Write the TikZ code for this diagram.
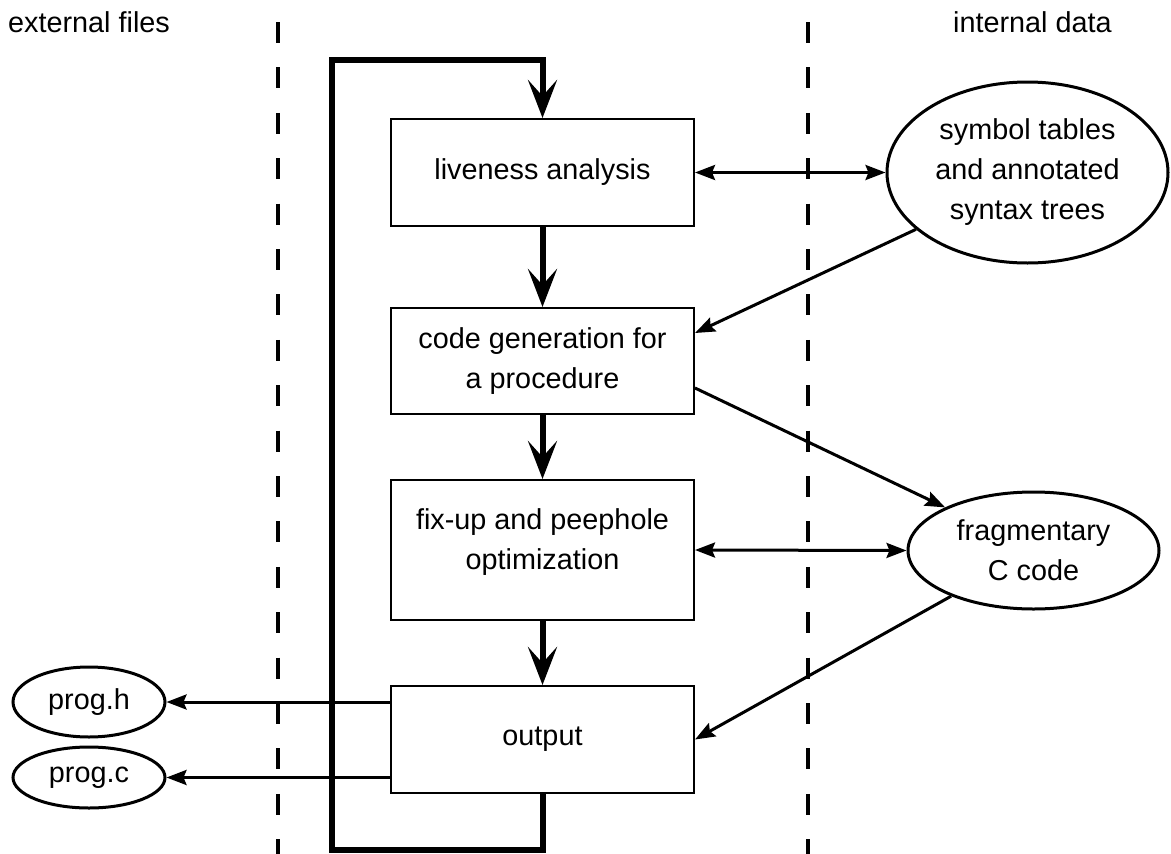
\documentclass[tikz,border=0pt]{standalone}
\usepackage{fontspec}
\setmainfont{Liberation Sans}
\usetikzlibrary{arrows.meta,shapes.geometric,calc}
\begin{document}
\begin{tikzpicture}[x=1pt,y=-1pt,
  font=\fontsize{28.8}{40}\selectfont,
  box/.style={draw, line width=2pt, minimum width=303pt, inner sep=0pt, align=center},
  oval/.style={draw, ellipse, line width=3pt, inner sep=0pt, align=center},
  flow/.style={line width=6pt, -{Stealth[length=38pt,width=29pt,inset=16pt]}},
  link/.style={line width=3pt, -{Stealth[length=20pt,width=15pt,inset=3pt]}},
  link2/.style={line width=3pt, {Stealth[length=20pt,width=15pt,inset=3pt]}-{Stealth[length=20pt,width=15pt,inset=3pt]}},
  sep/.style={line width=4pt, dash pattern=on 21pt off 24.4pt},
  lab/.style={inner sep=0pt}]
\useasboundingbox (0,0) rectangle (1171,854);

% separators
\draw[sep] (278,22) -- (278,854);
\draw[sep] (808,22) -- (808,854);

% headings
\node[lab, anchor=west] (ext) at (8,22.5) {external files};
\node[lab, anchor=west] (int) at (953,22.5) {internal data};

% boxes
\node[box, minimum height=107pt] (live) at (542.5,172.5) {liveness analysis};
\node[box, minimum height=106pt] (cg) at (542.5,361) {code generation for\\a procedure};
\node[box, minimum height=140pt] (fix) at (542.5,550) {};
\node[lab, align=center] (fixtext) at (542.5,542.5) {fix-up and peephole\\optimization};
\node[box, minimum height=107pt] (out) at (542.5,739.5) {output};

% ellipses
\node[oval, minimum width=281pt, minimum height=181pt] (sym) at (1027.5,172.5) {symbol tables\\and annotated\\syntax trees};
\node[oval, minimum width=251pt, minimum height=117pt] (frag) at (1033.5,550.5) {fragmentary\\C code};
\node[oval, minimum width=152pt, minimum height=70pt] (ph) at (89,702) {prog.h};
\node[oval, minimum width=152pt, minimum height=61pt] (pc) at (89,777.5) {prog.c};

% loop
\coordinate (lb) at (331.5,850);
\coordinate (lt) at (331.5,59.5);
\draw[flow] (out.south) -- (out.south |- lb) -- (lb) -- (lt) -- (lt -| live.north) -- (live.north);

% main flow
\draw[flow] (live.south) -- (cg.north);
\draw[flow] (cg.south) -- (fix.north);
\draw[flow] (fix.south) -- (out.north);

% data links
\draw[link2] (live.east) -- (sym.west);
\draw[link2] (fix.east) -- (frag.west);
\draw[link] (sym.207) -- ([yshift=28pt]cg.east);
\draw[link] ([yshift=-27pt]cg.east) -- (frag.154);
\draw[link] (frag.209.5) -- (out.east);
\draw[link] (out.west |- ph.east) -- (ph.east);
\draw[link] (out.west |- pc.east) -- (pc.east);
\end{tikzpicture}
\end{document}
